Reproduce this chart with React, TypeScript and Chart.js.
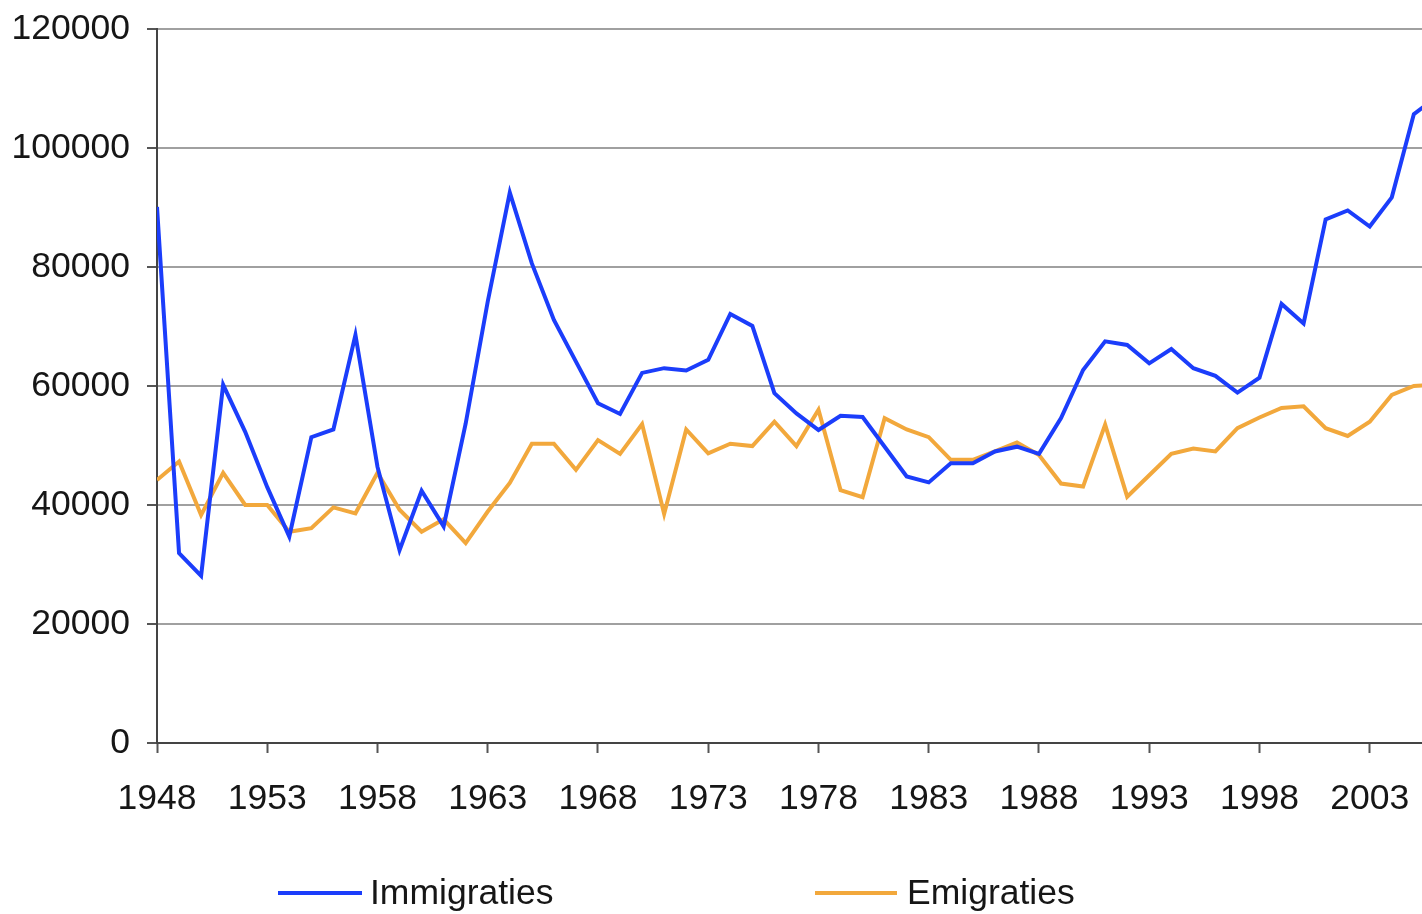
import React, { useEffect, useRef } from "react";
import { Chart, registerables } from "chart.js";

Chart.register(...registerables);

const years = [
  1948, 1949, 1950, 1951, 1952, 1953, 1954, 1955, 1956, 1957,
  1958, 1959, 1960, 1961, 1962, 1963, 1964, 1965, 1966, 1967,
  1968, 1969, 1970, 1971, 1972, 1973, 1974, 1975, 1976, 1977,
  1978, 1979, 1980, 1981, 1982, 1983, 1984, 1985, 1986, 1987,
  1988, 1989, 1990, 1991, 1992, 1993, 1994, 1995, 1996, 1997,
  1998, 1999, 2000, 2001, 2002, 2003, 2004, 2005, 2006,
];

const immigraties = [
  90100, 31900, 28100, 60200, 52300, 43000, 34700, 51400, 52700, 68600,
  46400, 32400, 42400, 36400, 53700, 74200, 92500, 80600, 71100, 64100,
  57100, 55300, 62200, 63000, 62600, 64400, 72100, 70100, 58800, 55400,
  52600, 55000, 54800, 49800, 44800, 43800, 47000, 47000, 49000, 49800,
  48600, 54600, 62700, 67500, 66900, 63800, 66200, 63000, 61700, 58900,
  61400, 73800, 70500, 88000, 89500, 86800, 91700, 105700, 108500,
];

const emigraties = [
  44200, 47300, 38300, 45400, 40000, 40000, 35500, 36100, 39600, 38600,
  45400, 39200, 35500, 37600, 33600, 38900, 43700, 50300, 50300, 45900,
  50900, 48600, 53600, 38500, 52700, 48700, 50300, 49900, 54000, 49900,
  56000, 42500, 41300, 54600, 52700, 51400, 47600, 47600, 49000, 50500,
  48400, 43600, 43100, 53500, 41400, 45000, 48600, 49500, 49000, 52900,
  54700, 56300, 56600, 52900, 51600, 54000, 58500, 60000, 60200,
];

const tickYears = [1948, 1953, 1958, 1963, 1968, 1973, 1978, 1983, 1988, 1993, 1998, 2003];
const yTicks = [0, 20000, 40000, 60000, 80000, 100000, 120000];

const seriesNames = ["Immigraties", "Emigraties"];
const seriesColors = ["#1b3dfb", "#f2a83c"];

const FONT = "'Liberation Sans', Arial, Helvetica, sans-serif";
const FONT_SIZE = 35.5;

const legendPlugin = {
  id: "customLegend",
  afterDraw(chart: any) {
    const ctx = chart.ctx;
    const items = [
      { x0: 278, x1: 362, tx: 370 },
      { x0: 815, x1: 897, tx: 907 },
    ];
    const y = 893;
    ctx.save();
    chart.data.datasets.forEach((ds: any, i: number) => {
      const it = items[i];
      ctx.strokeStyle = ds.borderColor;
      ctx.lineWidth = 4;
      ctx.beginPath();
      ctx.moveTo(it.x0, y);
      ctx.lineTo(it.x1, y);
      ctx.stroke();
      ctx.fillStyle = "#161616";
      ctx.font = `${FONT_SIZE}px ${FONT}`;
      ctx.textAlign = "left";
      ctx.textBaseline = "middle";
      ctx.fillText(ds.label, it.tx, y + 1);
    });
    ctx.restore();
  },
};

export default function App() {
  const ref = useRef<HTMLCanvasElement | null>(null);

  useEffect(() => {
    if (!ref.current) return;
    const chart = new Chart(ref.current, {
      type: "line",
      data: {
        datasets: [
          {
            label: seriesNames[0],
            data: years.map((yr, i) => ({ x: yr, y: immigraties[i] })),
            borderColor: seriesColors[0],
            backgroundColor: seriesColors[0],
            borderWidth: 4,
            pointRadius: 0,
            tension: 0,
          },
          {
            label: seriesNames[1],
            data: years.map((yr, i) => ({ x: yr, y: emigraties[i] })),
            borderColor: seriesColors[1],
            backgroundColor: seriesColors[1],
            borderWidth: 4,
            pointRadius: 0,
            tension: 0,
          },
        ],
      },
      options: {
        responsive: false,
        animation: false,
        devicePixelRatio: 1,
        layout: { padding: { top: 29, right: 0, bottom: 0, left: 0 } },
        plugins: {
          legend: { display: false },
          tooltip: { enabled: false },
          title: { display: false },
        },
        scales: {
          x: {
            type: "linear",
            min: 1948,
            max: 2005.37,
            afterBuildTicks: (scale: any) => {
              scale.ticks = tickYears.map((v) => ({ value: v }));
            },
            afterFit: (scale: any) => {
              scale.height = 171;
              scale.paddingLeft = 0;
              scale.paddingRight = 0;
            },
            grid: {
              drawOnChartArea: false,
              drawTicks: true,
              tickLength: 10,
              tickColor: "#555",
              tickWidth: 2,
              color: "#555",
            },
            border: { display: true, color: "#444", width: 2 },
            ticks: {
              autoSkip: false,
              maxRotation: 0,
              padding: 25,
              color: "#161616",
              font: { family: FONT, size: FONT_SIZE },
              callback: (v: any) => String(v),
            },
          },
          y: {
            type: "linear",
            min: 0,
            max: 120000,
            afterBuildTicks: (scale: any) => {
              scale.ticks = yTicks.map((v) => ({ value: v }));
            },
            afterFit: (scale: any) => {
              scale.width = 157;
              scale.paddingTop = 0;
              scale.paddingBottom = 0;
            },
            grid: {
              color: "#a0a0a0",
              lineWidth: 2,
              drawTicks: true,
              tickLength: 10,
              tickColor: "#555",
              tickWidth: 2,
            },
            border: { display: true, color: "#444", width: 2 },
            ticks: {
              padding: 17,
              color: "#161616",
              font: { family: FONT, size: FONT_SIZE },
              callback: (v: any) => String(v),
            },
          },
        },
      },
      plugins: [legendPlugin],
    } as any);
    return () => chart.destroy();
  }, []);

  return (
    <div
      style={{
        position: "fixed",
        left: 0,
        top: 0,
        width: 1422,
        height: 914,
        overflow: "hidden",
        background: "#fff",
      }}
    >
      <canvas ref={ref} width={1422} height={914} style={{ display: "block" }} />
    </div>
  );
}
